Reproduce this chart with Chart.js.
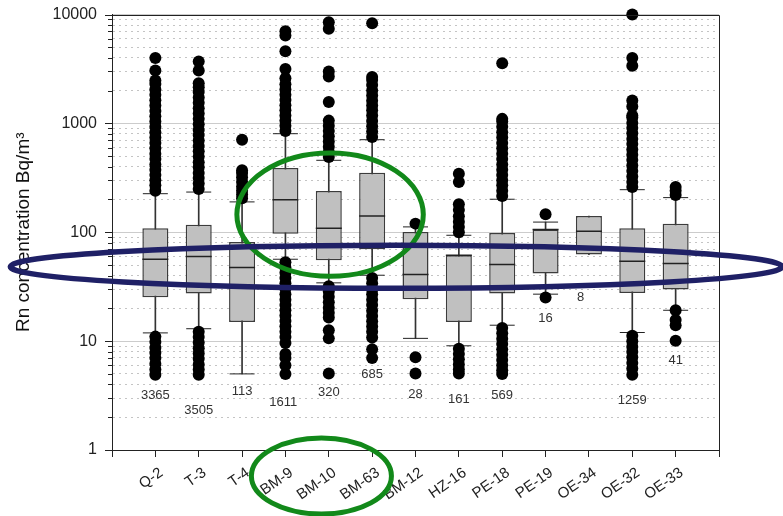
<!DOCTYPE html>
<html><head><meta charset="utf-8">
<script src="https://cdn.jsdelivr.net/npm/chart.js@4.4.1/dist/chart.umd.min.js"></script>
<style>html,body{margin:0;padding:0;background:#fff;}canvas{display:block;}</style>
</head><body>
<canvas id="c" width="783" height="516"></canvas>
<script>
// ---------- data ----------
const categories = ['Q-2','T-3','T-4','BM-9','BM-10','BM-63','BM-12','HZ-16','PE-18','PE-19','OE-34','OE-32','OE-33'];
const q1      = [25.3, 27.4, 15.0, 97,  55.3, 69.8, 24.3, 15.0, 27.4, 41.8, 62.4, 27.7, 29.8];
const median  = [56.5, 59.8, 47.4, 199, 109,  141,  40.9, 61.5, 50.5, 106,  102,  54.2, 51.6];
const q3      = [109,  117,  81.5, 389, 239,  352,  100.7,61.5, 98.6, 106,  141,  109,  120];
const whiskLo = [11.9, 13.0, 5.0,  56.5,34.3, 40.3, 10.6, 9.06, 14.0, 27.0, 62.4, 12.0, 19.2];
const whiskHi = [226,  234,  190,  804, 458,  708,  112,  93.8, 201,  124,  141,  246,  208];
const counts  = [3365, 3505, 113, 1611, 320, 685, 28, 161, 569, 16, 8, 1259, 41];
const outliersHigh = [
  [240,270,300,335,375,420,470,525,590,660,740,830,930,1040,1160,1300,1460,1630,1830,2050,2300,2480,3060,3990],
  [250,280,315,350,395,440,495,555,620,695,780,870,980,1100,1230,1380,1550,1730,1940,2150,2340,3060,3700],
  [205,222,240,262,290,320,350,372,709],
  [850,950,1060,1180,1320,1470,1640,1830,2050,2290,2600,3160,4600,6400,7000],
  [490,545,610,680,760,850,950,1060,1570,2700,3000,7400,8500],
  [750,840,940,1050,1180,1320,1460,1610,1800,2000,2250,2500,2660,8300],
  [120],
  [100,112,125,140,160,181,290,345],
  [215,240,270,300,335,375,420,470,525,590,660,740,830,930,1040,1100,3570],
  [146],
  [],
  [260,290,325,365,410,460,515,575,645,720,810,905,1010,1130,1183,1430,1620,3390,3990,10000],
  [220,240,260]
];
const outliersLow = [
  [11,9.8,8.7,7.8,7,6.2,5.5,4.9],
  [12.2,10.9,9.7,8.6,7.7,6.9,6.1,5.5,4.9],
  [],
  [53,47.5,42.5,38,34,30.5,27,24,21.5,19.2,17.2,15.3,13.7,12.2,10.9,9.6,7.6,7.0,6.0,5.0],
  [32,28.5,25.5,22.8,20.3,18.2,16.5,12.6,10.6,5.05],
  [38,34,30,27,24,21.5,19,17,15.2,13.6,12.2,10.8,8.4,7.0],
  [7.1,5.05],
  [8.5,7.6,6.8,6.1,5.5,5.05],
  [13.2,11.8,10.5,9.4,8.4,7.5,6.7,6.0,5.4,5.0],
  [25.2],
  [],
  [11.2,10,8.9,8,7.1,6.3,5.6,4.9],
  [19.2,15.6,14,10.07]
];
const yTickLabels = [1, 10, 100, 1000, 10000];
const yMinorMantissas = [2,3,4,5,6,7,8,9];

// annotation anchors (count labels: x index, y value)
const countLabelX = [0,1,2,2.95,4,5,6,7,8,9,9.81,11,12];
const countLabelY = [3.15,2.33,3.43,2.72,3.38,4.98,3.26,2.94,3.2,16.3,25.2,2.87,6.6];

// ---------- helpers ----------
const FONT = '"Liberation Sans", Arial, Helvetica, sans-serif';
const isPow10 = v => v > 0 && Math.abs(Math.log10(v) - Math.round(Math.log10(v))) < 1e-9;
const yTickValues = [];
for (let k = 0; k < yTickLabels.length; k++) {
  yTickValues.push(yTickLabels[k]);
  if (k < yTickLabels.length - 1) yMinorMantissas.forEach(m => yTickValues.push(m * yTickLabels[k]));
}

const idx = categories.map((c, i) => i);
const boxData = idx.map(i => ({x: i, y: [q1[i], q3[i]]}));
const whiskData = idx.map(i => ({x: i, y: [whiskLo[i], whiskHi[i]]}));
const medData = idx.map(i => ({x: i, y: median[i]}));
const capData = [];
idx.forEach(i => {
  if (whiskLo[i] < q1[i]) capData.push({x: i, y: whiskLo[i]});
  if (whiskHi[i] > q3[i]) capData.push({x: i, y: whiskHi[i]});
});
const outData = [];
idx.forEach(i => {
  outliersHigh[i].forEach(v => outData.push({x: i, y: v}));
  outliersLow[i].forEach(v => outData.push({x: i, y: v}));
});

const decor = {
  id: 'decor',
  afterDraw(chart) {
    const {ctx, chartArea: a, scales: {x, y}} = chart;
    ctx.save();
    ctx.strokeStyle = '#222'; ctx.lineWidth = 1;
    y.ticks.forEach(t => {
      const py = Math.round(y.getPixelForValue(t.value)) + 0.5;
      const len = isPow10(t.value) ? 7 : 4;
      ctx.beginPath(); ctx.moveTo(a.left - len, py); ctx.lineTo(a.left, py); ctx.stroke();
    });
    ctx.beginPath();
    ctx.moveTo(Math.round(a.left) + 0.5, Math.round(a.top) + 0.5);
    ctx.lineTo(Math.round(a.right) + 0.5, Math.round(a.top) + 0.5);
    ctx.lineTo(Math.round(a.right) + 0.5, Math.round(a.bottom) + 0.5);
    ctx.stroke();
    ctx.fillStyle = '#333';
    ctx.font = '13px ' + FONT;
    ctx.textAlign = 'center'; ctx.textBaseline = 'middle';
    counts.forEach((n, i) => {
      ctx.fillText(String(n), x.getPixelForValue(countLabelX[i]), y.getPixelForValue(countLabelY[i]));
    });
    const ell = (x0, x1, y0, y1, color, w) => {
      const cx = (x0 + x1) / 2, cy = (y0 + y1) / 2;
      ctx.beginPath();
      ctx.ellipse(cx, cy, Math.abs(x1 - x0) / 2, Math.abs(y1 - y0) / 2, 0, 0, Math.PI * 2);
      ctx.strokeStyle = color; ctx.lineWidth = w; ctx.stroke();
    };
    ell(x.getPixelForValue(1.88), x.getPixelForValue(6.18), y.getPixelForValue(535), y.getPixelForValue(39.4), '#12891a', 5);
    ell(x.getPixelForValue(2.215), x.getPixelForValue(5.445), a.bottom - 12, a.bottom + 64, '#12891a', 5);
    ell(x.getPixelForValue(-3.345), x.getPixelForValue(14.46), y.getPixelForValue(76), y.getPixelForValue(30.6), '#1f2066', 5.5);
    ctx.restore();
  }
};

new Chart(document.getElementById('c'), {
  data: {
    datasets: [
      {type: 'scatter', data: outData, order: 0, clip: false,
       pointRadius: 6, pointBackgroundColor: '#000', pointBorderWidth: 0, pointStyle: 'circle'},
      {type: 'scatter', data: capData, order: 1,
       pointStyle: 'line', pointRadius: 12.5, pointBorderColor: '#222', pointBorderWidth: 1},
      {type: 'scatter', data: medData, order: 2,
       pointStyle: 'line', pointRadius: 13, pointBorderColor: '#222', pointBorderWidth: 1.5},
      {type: 'bar', data: boxData, order: 3, grouped: false,
       backgroundColor: '#c0c0c0', borderColor: '#3c3c3c', borderWidth: 1.5, borderSkipped: false,
       categoryPercentage: 1, barPercentage: 0.6},
      {type: 'bar', data: whiskData, order: 4, grouped: false,
       backgroundColor: '#333', borderWidth: 0, barThickness: 1}
    ]
  },
  options: {
    responsive: false, animation: false, events: [],
    layout: {padding: {top: 14, right: 64, bottom: 0, left: 0}},
    plugins: {legend: {display: false}, tooltip: {enabled: false}},
    scales: {
      x: {
        type: 'linear', min: -1, max: 13, offset: false,
        afterFit: s => { s.height = 66; },
        ticks: {stepSize: 1, autoSkip: false, minRotation: 35, maxRotation: 35, padding: 7, labelOffset: 6,
                color: '#222', font: {family: FONT, size: 15},
                callback: v => categories[v] !== undefined ? categories[v] : ''},
        grid: {offset: false, drawOnChartArea: false, drawTicks: true, tickLength: 7, tickColor: '#222'},
        border: {color: '#222', width: 1}
      },
      y: {
        type: 'logarithmic', min: 1, max: 10000,
        afterFit: s => { s.width = 112; },
        afterBuildTicks: s => { s.ticks = yTickValues.map(v => ({value: v, major: isPow10(v)})); },
        ticks: {autoSkip: false, padding: 3, color: '#222', font: {family: FONT, size: 16},
                callback: v => isPow10(v) ? String(Math.round(v)) : ''},
        grid: {drawTicks: true, tickLength: 12, tickColor: 'rgba(0,0,0,0)', lineWidth: 1,
               color: c => (c.tick && isPow10(c.tick.value)) ? '#cccccc' : '#c4c4c4'},
        border: {color: '#222', width: 1,
                 dash: c => (c.tick && !isPow10(c.tick.value)) ? [2, 4] : []},
        title: {display: true, text: 'Rn concentration Bq/m³', color: '#111',
                font: {family: FONT, size: 19}, padding: {top: 12, bottom: 0}}
      }
    }
  },
  plugins: [decor]
});
</script>
</body></html>
